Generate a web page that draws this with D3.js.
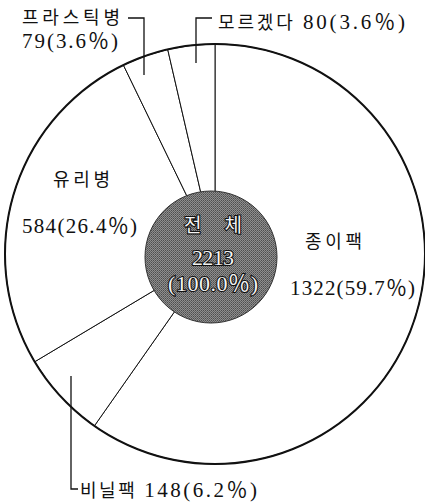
<!DOCTYPE html>
<html>
<head>
<meta charset="utf-8">
<script src="https://cdn.jsdelivr.net/npm/d3@7"></script>
<style>
  body { margin: 0; background: #fff; }
  svg text { font-family: "Liberation Serif", "Noto Sans CJK KR", serif; fill: #111; }
  .num { font-size: 21px; }
</style>
</head>
<body>
<svg id="chart" width="425" height="502"></svg>
<script>
// slice order goes clockwise from 12 o'clock
const categories = ["종이팩", "비닐팩", "유리병", "프라스틱병", "모르겠다"];
const counts = [1322, 148, 584, 79, 80];
const percents = ["59.7", "6.2", "26.4", "3.6", "3.6"];
const total = 2213;

const svg = d3.select("#chart");
const cx = 215, cy = 254, outerR = 210, innerR = 66;

const g = svg.append("g").attr("transform", `translate(${cx},${cy})`);

// halftone-ish fill for the centre disc
const defs = svg.append("defs");
const pat = defs.append("pattern")
  .attr("id", "dots").attr("width", 2).attr("height", 2)
  .attr("patternUnits", "userSpaceOnUse");
pat.append("rect").attr("width", 2).attr("height", 2).attr("fill", "#8e8e8e");
pat.append("rect").attr("width", 1).attr("height", 1).attr("fill", "#4e4e4e");
pat.append("rect").attr("x", 1).attr("y", 1).attr("width", 1).attr("height", 1).attr("fill", "#626262");

const data = categories.map((c, i) => ({ name: c, value: counts[i], pct: percents[i] }));

const pie = d3.pie().sort(null).value(d => d.value);
const arcs = pie(data);

const arc = d3.arc().innerRadius(0).outerRadius(outerR);

g.selectAll("path.slice")
  .data(arcs)
  .join("path")
    .attr("class", "slice")
    .attr("d", arc)
    .attr("fill", "#fff")
    .attr("stroke", "#111")
    .attr("stroke-width", 1);

// thicker outer rim
g.append("circle")
  .attr("r", outerR)
  .attr("fill", "none")
  .attr("stroke", "#111")
  .attr("stroke-width", 2);

// centre disc
g.append("circle")
  .attr("cx", -4).attr("cy", 3)
  .attr("r", innerR)
  .attr("fill", "url(#dots)")
  .attr("stroke", "#333")
  .attr("stroke-width", 1);

const centerText = g.append("g").attr("text-anchor", "middle");
const ct = [
  { t: "전   체", y: -22, size: 19, len: 58 },
  { t: String(total), y: 11, size: 22, len: 42 },
  { t: "(100.0％)", y: 37, size: 22, len: 90 }
];
centerText.selectAll("text")
  .data(ct)
  .join("text")
    .attr("x", -2)
    .attr("y", d => d.y)
    .attr("textLength", d => d.len)
    .attr("lengthAdjust", "spacing")
    .attr("stroke", "#111")
    .attr("stroke-width", 2.2)
    .attr("paint-order", "stroke")
    .style("font-size", d => d.size + "px")
    .style("fill", "#f4f4f4")
    .text(d => d.t);

// labels
const lab = svg.append("g").style("font-size", "18px");
const byName = Object.fromEntries(data.map(d => [d.name, d]));
const numStr = n => `${byName[n].value}(${byName[n].pct}％)`;

function label(x, y, len, parts) {
  const t = lab.append("text").attr("x", x).attr("y", y);
  if (len) t.attr("textLength", len).attr("lengthAdjust", "spacing");
  parts.forEach(p => t.append("tspan").attr("class", p.num ? "num" : null).text(p.s));
}

label(305, 248, 57, [{ s: "종이팩" }]);
label(290, 295, 125, [{ s: numStr("종이팩"), num: true }]);

label(53, 186, 57, [{ s: "유리병" }]);
label(22, 233, 115, [{ s: numStr("유리병"), num: true }]);

label(22, 24, 98, [{ s: "프라스틱병" }]);
label(22, 48, 96, [{ s: numStr("프라스틱병"), num: true }]);

label(218, 29, 187, [{ s: "모르겠다 " }, { s: numStr("모르겠다"), num: true }]);

label(80, 497, 177, [{ s: "비닐팩 " }, { s: numStr("비닐팩"), num: true }]);

// leader lines
const leaders = [
  [[128, 18], [144, 18], [144, 75]],
  [[212, 18], [196, 18], [196, 63]],
  [[71, 376], [71, 489], [78, 489]]
];
svg.append("g").selectAll("path")
  .data(leaders)
  .join("path")
    .attr("d", d3.line())
    .attr("fill", "none")
    .attr("stroke", "#111")
    .attr("stroke-width", 1.3);
</script>
</body>
</html>
